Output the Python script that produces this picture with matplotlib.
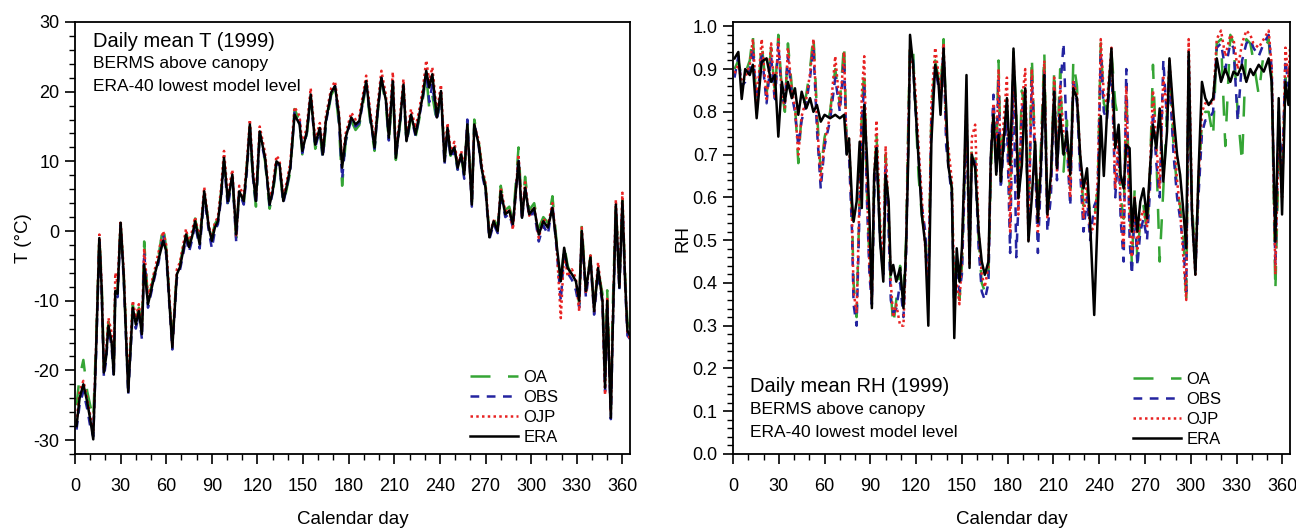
import matplotlib
matplotlib.use("Agg")
import matplotlib.pyplot as plt
from matplotlib.ticker import MultipleLocator, FormatStrFormatter

plt.rcParams['font.family'] = ['Liberation Sans', 'DejaVu Sans']
plt.rcParams['axes.unicode_minus'] = False

# ---------------- Temperature panel data ----------------
t_day = [1, 3, 5.5, 8, 10, 12, 14, 16, 17.5, 19,
         20.5, 22, 24, 25.5, 26.5, 28, 30, 32, 35, 38,
         40, 42, 44, 45.5, 48, 52.5, 55, 58, 60, 62,
         64, 67, 69, 71, 73, 75, 77, 79, 82, 85,
         88, 90, 92, 94, 96, 98, 100.5, 103.5, 106, 108,
         111, 113, 115, 117, 119, 121.5, 125, 128, 130, 132.5,
         134.5, 137, 139, 141.6, 144.4, 147.7, 149.5, 152.5, 155, 158,
         161, 163, 165, 168.5, 171, 173.5, 175.7, 178, 181.7, 184.5,
         187, 191.5, 194, 197, 199, 201.5, 204.5, 206.4, 209, 211,
         214, 216, 218, 221, 224, 226.5, 228.8, 231, 233, 235,
         238, 240.7, 243, 245, 247, 249.5, 251.7, 254, 256, 258,
         261, 262.6, 265.5, 267.7, 270, 272.5, 275.3, 278, 280, 283,
         285.6, 288, 291.7, 294, 296, 298.7, 302, 305, 308, 311,
         314, 316.7, 319.5, 321.7, 324, 326.8, 329.4, 331.6, 333.3, 336,
         339, 341.4, 344, 346.9, 348.6, 350, 352.4, 353.5, 355.7, 358,
         360, 361.8, 363.3, 365]
t_era = [-28, -24, -22, -24.5, -27, -29.9, -16, -1, -8, -20.3,
         -18, -13.6, -15.8, -20.6, -8.6, -9, 1.2, -6.2, -23.1, -11,
         -13.4, -11.5, -14.8, -4.8, -10.5, -6.2, -4, -1.4, -2.9, -10,
         -16.7, -6.2, -5.2, -3, -0.5, -2.3, -0.8, 1.4, -1.9, 5.7,
         0.5, -1.4, 0.5, 1.4, 5, 10.5, 4.3, 8.1, -0.5, 5.7,
         4.3, 9, 15.3, 8.1, 4.3, 14.3, 10.5, 3.8, 5.7, 10,
         9.6, 4.3, 6.2, 9.1, 16.7, 15.3, 11.5, 14.3, 19.6, 12.4,
         14.8, 11, 15.8, 19.9, 20.8, 16.7, 9.1, 13.4, 16.3, 15.3,
         15.8, 21.5, 16.7, 12, 17.2, 22, 18.7, 13.4, 21.5, 10.5,
         16.3, 21, 12.9, 16.7, 13.9, 16.7, 19.6, 23, 20.6, 22.5,
         16.3, 20.1, 10, 14.8, 11, 12, 9.1, 11, 8.1, 15.3,
         3.8, 15.3, 12.4, 8.6, 6.2, -0.9, 1.4, 0, 5.7, 2.4,
         2.9, 1, 10, 1.9, 6.2, 2.4, 3.3, -0.5, 1.4, 0.5,
         3.3, -1.9, -7.2, -2.4, -5.3, -6.2, -7.2, -10, 0, -8.6,
         -3.8, -11.5, -5.3, -10, -22.5, -10, -26.8, -15.3, 3.8, -8.1,
         4.3, -7.2, -14.3, -15]
t_oa = [-25, -21, -18.5, -23, -25, -27, -15, -0.8, -7, -19.5,
        -17.5, -13, -15, -20, -8, -8.5, 1, -6, -22.5, -10.5,
        -13, -11, -14, -1.5, -10, -5.8, -3.5, 0.8, -2.5, -9.5,
        -16, -5.8, -4.8, -2.5, 0, -2, -0.3, 1.8, -1.5, 5.3,
        1, -0.8, 1, 1.8, 5.5, 10, 4, 7.5, -1, 6.2,
        4, 9.5, 15, 7.5, 3.5, 14, 10, 3.2, 5.2, 9.5,
        9.2, 3.8, 5.8, 8.5, 17.5, 15.8, 11, 14, 19.2, 11.8,
        14.2, 10.2, 15.2, 19.5, 20.5, 15.5, 6.5, 12.8, 15.8, 14.5,
        15.2, 21, 16, 11.5, 16.8, 21.6, 18, 12.8, 21, 10.2,
        15.8, 20.5, 12.5, 16.2, 13.5, 16.2, 19, 22.5, 17.5, 19.5,
        15.5, 19.5, 10.5, 14.2, 10.8, 12.5, 8.5, 10.8, 7.8, 15.8,
        4.2, 16, 12.8, 9, 6.5, -0.5, 1.8, 0.5, 6.5, 3,
        3.5, 1.5, 12, 2.5, 7.8, 3, 4, 0.5, 2, 1.2,
        5, -1.5, -8, -2, -5, -6.5, -7, -10.5, 1, -8.8,
        -3.5, -11, -5.5, -9, -21, -8.5, -25.5, -12, 4, -7.5,
        4.5, -6.5, -13, -14]
t_obs = [-28.5, -25, -23, -25.5, -28, -29.5, -17, -1.5, -8.5, -21,
         -18.5, -14, -16.5, -21, -9, -9.5, 0.8, -6.8, -23.5, -11.5,
         -14, -12, -15.5, -3, -11, -6.5, -4.5, -0.5, -3.5, -10.5,
         -17, -6.8, -5.6, -3.5, -1, -3, -1.3, 1, -2.5, 5,
         0, -2.5, 0, 1, 4.5, 9.8, 3.5, 7.8, -1.5, 5.5,
         3.8, 8.5, 14.8, 7.8, 3.8, 13.8, 10.2, 3.5, 5.5, 9.8,
         9.4, 4, 6, 8.8, 17, 16, 11.2, 14.2, 19.4, 12,
         14.5, 10.5, 15.5, 19.8, 20.8, 16, 7.5, 13, 16, 15,
         15.5, 21.3, 16.5, 11.8, 17, 22, 18.5, 13, 21.5, 10.5,
         16, 20.8, 12.7, 16.5, 13.6, 16.5, 19.3, 22.8, 18.5, 21,
         15.8, 19.8, 9.5, 14.5, 10.5, 11.5, 8.8, 10.5, 7.5, 16,
         3.5, 15.5, 12.2, 8.2, 5.8, -1.2, 1, -0.3, 5.3, 2,
         2.5, 0.5, 10.5, 1.5, 6.5, 2, 2.8, -1.5, 0.8, -0.5,
         3.8, -2.5, -10, -3, -6, -7, -8.5, -11, -0.5, -9.5,
         -4.2, -12, -6, -10.5, -23, -11, -27, -16, 3, -8.5,
         3.8, -7.8, -15, -15.5]
t_ojp = [-27.5, -23, -21.5, -24, -26.5, -29, -15.5, -0.5, -7.5, -20,
         -17, -12.5, -14.5, -19.5, -6, -7.5, 1.5, -5.5, -22, -10,
         -12.5, -10.5, -14, -2.5, -9.5, -5.5, -3, 0, -2, -9,
         -16.5, -5.5, -4.5, -2.2, 0.3, -1.8, 0, 2, -1.2, 6.3,
         0.8, -1, 1.2, 2, 6, 11.5, 5, 8.8, -0.8, 6.5,
         5, 9.8, 16, 9, 5, 15, 11.2, 4.5, 6.3, 10.8,
         10.2, 5, 6.8, 9.8, 17.8, 16.5, 12.2, 15, 20.5, 13,
         15.5, 11.8, 16.5, 20.5, 21.5, 17.2, 9.8, 14, 17, 16,
         16.5, 22.3, 17.5, 12.8, 18, 23, 19.5, 14.2, 22.8, 11.2,
         17, 21.8, 13.5, 17.5, 14.8, 17.5, 20.5, 24.5, 21.5, 23.5,
         17, 21, 10.8, 15.5, 11.5, 12.8, 9.5, 11.5, 8.8, 14.8,
         4.5, 15.2, 13, 9.2, 6.8, -0.6, 1.5, 0.3, 6.2, 2.8,
         3.2, 0.2, 11, 2.2, 7, 2.2, 3.5, -1, 1.8, 0.8,
         4, -2, -12.5, -2.8, -6.5, -5.5, -6.8, -11.5, 0.5, -9,
         -3.5, -11.5, -4.5, -10, -23.5, -9.5, -26, -14.5, 4.5, -8,
         5.5, -7, -14.5, -15.5]

# ---------------- Relative humidity panel data ----------------
rh_day = [1, 3.5, 5.7, 8, 11, 13, 15.5, 18.8, 22, 25,
          27.5, 29.7, 32, 34, 36, 38.5, 40.6, 42.8, 45, 48,
          50.5, 52.7, 55, 57.5, 60, 63.6, 67, 70, 72.8, 74.5,
          76, 78, 79, 81, 83, 84.4, 86, 87.7, 89.4, 91,
          92.5, 94, 96.4, 98.5, 100, 102, 103.4, 105, 107, 109.5,
          111.7, 113.4, 115, 116, 118, 119, 121.6, 123.7, 126, 128,
          130, 132.5, 134.6, 136, 138, 139.7, 141, 143.4, 145, 146.6,
          148.4, 150, 151.5, 153, 155, 156.5, 158.7, 161, 163, 165,
          167.4, 169, 170.7, 172.5, 174, 175.5, 177, 179.5, 181.6, 183.8,
          185.6, 187, 189.3, 191.5, 193.6, 195.8, 198, 199.8, 201.8, 204,
          206, 208.3, 210.5, 212.3, 214.4, 216.6, 218.8, 221, 223, 225.4,
          227.5, 229.7, 232, 234, 236.7, 239, 241, 243, 245, 248,
          250.5, 252.7, 254, 256, 257.7, 259.9, 261.4, 263.2, 265, 266.9,
          269, 271.3, 273, 275.2, 277.4, 279.6, 282, 284.4, 286, 288.7,
          291, 293, 295.3, 297, 298.6, 300.8, 303, 305, 307.3, 309.5,
          311.7, 314.6, 317, 319.8, 322.6, 325.9, 328, 330.7, 333.6, 336.4,
          339, 341, 344.5, 347.8, 351, 353, 355.4, 357.6, 359.8, 362,
          364, 365]
rh_era = [.925, .94, .83, .90, .886, .91, .785, .917, .925, .87,
          .886, .742, .87, .824, .87, .832, .855, .793, .847, .808,
          .832, .80, .816, .777, .793, .785, .793, .785, .793, .70,
          .738, .59, .543, .59, .73, .575, .816, .70, .56, .341,
          .653, .715, .497, .403, .653, .59, .419, .442, .403, .435,
          .341, .481, .715, .98, .91, .847, .69, .56, .49, .30,
          .73, .91, .87, .793, .948, .808, .676, .621, .271, .481,
          .403, .481, .653, .886, .435, .70, .668, .52, .45, .419,
          .45, .70, .793, .653, .746, .637, .715, .832, .676, .948,
          .793, .598, .676, .855, .497, .598, .73, .543, .676, .886,
          .56, .653, .847, .668, .793, .70, .754, .653, .855, .832,
          .70, .621, .668, .543, .325, .56, .79, .65, .79, .948,
          .715, .77, .653, .621, .723, .715, .52, .598, .52, .59,
          .621, .551, .653, .77, .715, .808, .637, .754, .925, .793,
          .70, .653, .56, .481, .94, .56, .419, .653, .87, .832,
          .816, .832, .925, .87, .90, .87, .894, .886, .91, .87,
          .90, .886, .91, .894, .925, .87, .497, .832, .56, .87,
          .816, .90]
rh_oa = [.90, .92, .88, .89, .92, .98, .80, .96, .84, .95,
         .84, .98, .85, .80, .96, .86, .82, .68, .80, .84,
         .90, .98, .80, .66, .74, .80, .90, .82, .96, .72,
         .72, .56, .40, .32, .60, .80, .90, .62, .45, .38,
         .62, .75, .52, .45, .70, .55, .38, .30, .36, .44,
         .38, .50, .80, .96, .95, .85, .65, .56, .50, .40,
         .80, .92, .88, .85, .97, .78, .70, .62, .36, .45,
         .36, .44, .62, .80, .48, .72, .70, .50, .40, .38,
         .42, .66, .80, .70, .92, .68, .74, .80, .60, .94,
         .80, .60, .85, .80, .55, .93, .70, .58, .72, .94,
         .58, .62, .90, .70, .90, .66, .78, .62, .92, .86,
         .68, .58, .62, .56, .55, .62, .96, .82, .80, .94,
         .82, .78, .60, .55, .85, .60, .44, .62, .45, .55,
         .58, .52, .62, .91, .70, .45, .62, .80, .90, .72,
         .62, .58, .50, .35, .90, .58, .46, .62, .78, .80,
         .80, .74, .96, .97, .72, .98, .96, .80, .68, .97,
         .96, .92, .84, .94, .97, .88, .38, .70, .62, .88,
         .82, .90]
rh_obs = [.88, .93, .86, .87, .90, .95, .81, .94, .82, .93,
          .82, .96, .83, .82, .93, .84, .80, .72, .78, .82,
          .88, .95, .76, .62, .72, .78, .88, .80, .92, .70,
          .70, .52, .35, .30, .58, .78, .86, .60, .42, .35,
          .60, .72, .50, .42, .68, .52, .36, .33, .34, .40,
          .32, .46, .76, .94, .92, .84, .70, .58, .52, .37,
          .78, .90, .86, .82, .95, .72, .68, .60, .34, .42,
          .38, .42, .60, .78, .46, .70, .68, .48, .38, .36,
          .40, .70, .84, .66, .88, .62, .70, .78, .47, .92,
          .46, .58, .80, .85, .52, .88, .68, .47, .65, .90,
          .52, .60, .86, .64, .85, .96, .72, .58, .88, .82,
          .66, .52, .60, .50, .58, .60, .94, .80, .78, .92,
          .60, .72, .55, .45, .90, .50, .42, .58, .44, .52,
          .55, .50, .60, .80, .68, .60, .92, .78, .88, .70,
          .60, .55, .48, .38, .92, .55, .43, .60, .75, .78,
          .78, .80, .95, .96, .90, .96, .95, .78, .92, .96,
          .97, .95, .93, .96, .98, .90, .44, .80, .64, .92,
          .86, .92]
rh_ojp = [.89, .91, .87, .88, .91, .97, .82, .97, .83, .96,
          .83, .97, .84, .81, .95, .85, .81, .70, .79, .83,
          .89, .97, .78, .64, .73, .79, .93, .81, .94, .71,
          .74, .55, .38, .33, .62, .84, .93, .64, .44, .36,
          .64, .78, .54, .44, .72, .56, .40, .32, .35, .30,
          .30, .48, .78, .95, .90, .88, .72, .60, .48, .38,
          .82, .95, .89, .84, .96, .75, .72, .64, .38, .40,
          .35, .46, .64, .82, .44, .74, .77, .52, .42, .39,
          .44, .68, .82, .68, .90, .65, .76, .88, .52, .93,
          .75, .56, .82, .90, .50, .90, .72, .52, .70, .92,
          .55, .64, .88, .66, .86, .75, .74, .60, .87, .84,
          .70, .55, .64, .52, .53, .64, .97, .84, .82, .95,
          .62, .75, .58, .48, .86, .55, .46, .60, .48, .55,
          .57, .53, .64, .85, .72, .62, .88, .80, .92, .76,
          .64, .57, .45, .36, .97, .57, .42, .64, .80, .82,
          .82, .82, .97, .99, .93, .98, .97, .90, .96, .99,
          .98, .96, .95, .97, .99, .91, .42, .75, .60, .95,
          .88, .95]

x_ticks = [0, 30, 60, 90, 120, 150, 180, 210, 240, 270, 300, 330, 360]
series_names = ['OA', 'OBS', 'OJP', 'ERA']

C_OA = '#35a535'
C_OBS = '#2424a0'
C_OJP = '#e82222'
C_ERA = 'black'

fig = plt.figure(figsize=(12.96, 5.30), dpi=100)
axT = fig.add_axes([75/1296, 76/530, 555/1296, 432/530])
axR = fig.add_axes([733/1296, 76/530, 557/1296, 432/530])


def draw(ax, d, oa, obs, ojp, era):
    ax.plot(d, oa, color=C_OA, lw=1.8, dashes=(8, 7), label=series_names[0])
    ax.plot(d, obs, color=C_OBS, lw=1.8, dashes=(3.5, 3), label=series_names[1])
    ax.plot(d, ojp, color=C_OJP, lw=1.8, dashes=(1.0, 1.3), label=series_names[2])
    ax.plot(d, era, color=C_ERA, lw=1.8, label=series_names[3])


def style(ax):
    ax.set_xlim(0, 365)
    ax.set_xticks(x_ticks)
    ax.xaxis.set_minor_locator(MultipleLocator(10))
    ax.tick_params(which='major', direction='out', length=7, width=1.2,
                   labelsize=13, top=False, right=False)
    ax.tick_params(which='minor', direction='out', length=4, width=1.0,
                   top=False, right=False)
    ax.tick_params(axis='x', which='major', pad=10)
    ax.tick_params(axis='y', which='major', pad=4)
    for s in ax.spines.values():
        s.set_linewidth(1.3)
    ax.set_xlabel('Calendar day', fontsize=13.5, labelpad=12)


def legend(ax, x0, y0):
    ax.legend(loc='upper left', bbox_to_anchor=(x0, y0), frameon=False,
              fontsize=12, handlelength=2.9, handletextpad=0.3,
              labelspacing=0.3, borderpad=0, borderaxespad=0)


draw(axT, t_day, t_oa, t_obs, t_ojp, t_era)
style(axT)
axT.set_ylim(-32, 30)
axT.set_yticks([-30, -20, -10, 0, 10, 20, 30])
axT.yaxis.set_minor_locator(MultipleLocator(2))
axT.set_ylabel('T (\u00b0C)', fontsize=13.5, labelpad=1)
axT.text(0.032, 0.956, 'Daily mean T (1999)', transform=axT.transAxes,
         fontsize=14.5, va='center', ha='left')
axT.text(0.032, 0.903, 'BERMS above canopy', transform=axT.transAxes,
         fontsize=12.5, va='center', ha='left')
axT.text(0.032, 0.850, 'ERA-40 lowest model level', transform=axT.transAxes,
         fontsize=12.5, va='center', ha='left')
legend(axT, 0.712, 0.195)

draw(axR, rh_day, rh_oa, rh_obs, rh_ojp, rh_era)
style(axR)
axR.set_ylim(0, 1.01)
axR.set_yticks([0.0, 0.1, 0.2, 0.3, 0.4, 0.5, 0.6, 0.7, 0.8, 0.9, 1.0])
axR.yaxis.set_major_formatter(FormatStrFormatter('%.1f'))
axR.yaxis.set_minor_locator(MultipleLocator(0.02))
axR.set_ylabel('RH', fontsize=13.5, labelpad=1)
axR.text(0.031, 0.157, 'Daily mean RH (1999)', transform=axR.transAxes,
         fontsize=14.5, va='center', ha='left')
axR.text(0.031, 0.102, 'BERMS above canopy', transform=axR.transAxes,
         fontsize=12.5, va='center', ha='left')
axR.text(0.031, 0.049, 'ERA-40 lowest model level', transform=axR.transAxes,
         fontsize=12.5, va='center', ha='left')
legend(axR, 0.718, 0.19)

fig.savefig('out.png', dpi=100)
